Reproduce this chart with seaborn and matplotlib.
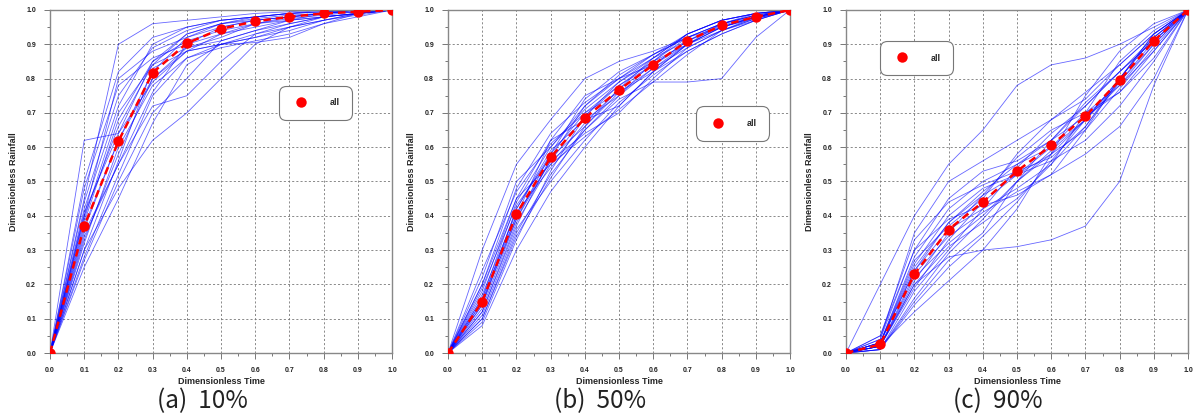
import numpy as np
import pandas as pd
import matplotlib
matplotlib.use('Agg')
import matplotlib.pyplot as plt
import seaborn as sns
from matplotlib.lines import Line2D
from matplotlib.ticker import MultipleLocator

sns.set_style('white')
plt.rcParams['font.family'] = ['Liberation Sans', 'DejaVu Sans']

# Dimensionless time axis
time = [0.0, 0.1, 0.2, 0.3, 0.4, 0.5, 0.6, 0.7, 0.8, 0.9, 1.0]

# Mean curves ("all")
mean_10 = [0, .37, .617, .817, .903, .945, .967, .98, .99, .995, 1]
mean_50 = [0, .15, .405, .57, .685, .767, .84, .91, .955, .98, 1]
mean_90 = [0, .025, .23, .36, .44, .53, .605, .69, .795, .91, 1]

# Individual storm curves, 10% quantile
curves_10 = [
    [0, .62, .64, .85, .93, .96, .98, .99, .995, 1, 1],
    [0, .45, .90, .96, .97, .98, .99, .995, 1, 1, 1],
    [0, .40, .80, .88, .92, .95, .97, .98, .99, 1, 1],
    [0, .35, .55, .72, .75, .85, .93, .96, .98, .99, 1],
    [0, .30, .48, .62, .70, .80, .90, .95, .97, .99, 1],
    [0, .38, .68, .85, .91, .94, .96, .97, .98, .99, 1],
    [0, .33, .58, .80, .88, .90, .92, .95, .98, .99, 1],
    [0, .42, .72, .90, .95, .97, .98, .99, .995, 1, 1],
    [0, .28, .52, .75, .86, .89, .91, .93, .96, .98, 1],
    [0, .36, .62, .82, .92, .96, .97, .98, .99, 1, 1],
    [0, .32, .60, .78, .86, .90, .93, .95, .97, .985, 1],
    [0, .48, .78, .86, .90, .93, .95, .97, .98, .99, 1],
    [0, .25, .45, .67, .84, .90, .92, .94, .97, .99, 1],
    [0, .40, .66, .84, .93, .96, .975, .985, .99, 1, 1],
    [0, .34, .55, .76, .90, .95, .97, .98, .99, .995, 1],
    [0, .37, .62, .80, .89, .91, .94, .97, .99, .995, 1],
    [0, .44, .75, .89, .94, .97, .98, .99, 1, 1, 1],
    [0, .30, .56, .83, .88, .90, .905, .92, .96, .99, 1],
    [0, .50, .82, .92, .95, .97, .98, .99, .995, 1, 1],
    [0, .39, .70, .84, .89, .92, .96, .98, .99, 1, 1],
    [0, .27, .50, .70, .80, .91, .94, .96, .98, .99, 1],
    [0, .41, .64, .79, .88, .93, .96, .975, .985, .995, 1],
]

# Individual storm curves, 50% quantile
curves_50 = [
    [0, .30, .55, .68, .80, .85, .88, .92, .96, .98, 1],
    [0, .20, .48, .64, .73, .80, .87, .93, .97, .99, 1],
    [0, .10, .35, .52, .65, .74, .79, .79, .80, .92, 1],
    [0, .15, .42, .58, .70, .78, .85, .92, .96, .985, 1],
    [0, .08, .30, .47, .60, .72, .82, .90, .95, .98, 1],
    [0, .18, .45, .62, .68, .72, .82, .90, .95, .98, 1],
    [0, .12, .38, .55, .67, .77, .84, .91, .955, .98, 1],
    [0, .22, .50, .60, .72, .80, .86, .91, .95, .98, 1],
    [0, .14, .40, .56, .64, .70, .80, .89, .94, .975, 1],
    [0, .16, .44, .60, .71, .79, .86, .93, .97, .99, 1],
    [0, .11, .36, .50, .62, .73, .81, .88, .93, .97, 1],
    [0, .19, .43, .57, .66, .76, .83, .89, .94, .975, 1],
    [0, .13, .39, .58, .74, .82, .87, .92, .96, .985, 1],
    [0, .17, .41, .54, .65, .75, .83, .90, .95, .98, 1],
    [0, .09, .33, .53, .69, .78, .84, .91, .96, .985, 1],
    [0, .24, .47, .61, .70, .76, .82, .88, .93, .97, 1],
    [0, .14, .42, .59, .68, .75, .85, .93, .97, .99, 1],
    [0, .12, .37, .57, .72, .81, .87, .92, .95, .975, 1],
    [0, .20, .45, .55, .63, .71, .79, .87, .94, .98, 1],
    [0, .16, .40, .62, .75, .80, .84, .90, .96, .99, 1],
    [0, .10, .34, .51, .66, .77, .86, .93, .97, .99, 1],
    [0, .15, .39, .56, .69, .79, .85, .90, .94, .97, 1],
]

# Individual storm curves, 90% quantile
curves_90 = [
    [0, .20, .40, .55, .65, .78, .84, .86, .90, .95, 1],
    [0, .05, .30, .45, .53, .56, .62, .73, .82, .92, 1],
    [0, .02, .20, .28, .30, .31, .33, .37, .50, .78, 1],
    [0, .03, .25, .38, .46, .52, .58, .68, .80, .92, 1],
    [0, .01, .15, .27, .35, .50, .62, .72, .82, .91, 1],
    [0, .03, .28, .42, .50, .55, .60, .70, .78, .88, 1],
    [0, .02, .22, .32, .40, .50, .58, .65, .80, .93, 1],
    [0, .04, .35, .50, .56, .62, .68, .74, .84, .93, 1],
    [0, .01, .18, .30, .42, .54, .64, .72, .82, .91, 1],
    [0, .03, .24, .36, .42, .48, .55, .66, .80, .93, 1],
    [0, .02, .21, .35, .46, .57, .65, .70, .76, .88, 1],
    [0, .02, .12, .21, .30, .42, .58, .75, .88, .96, 1],
    [0, .03, .26, .40, .48, .52, .56, .62, .72, .85, 1],
    [0, .02, .19, .33, .44, .52, .60, .68, .79, .90, 1],
    [0, .04, .30, .39, .43, .46, .52, .65, .77, .89, 1],
    [0, .01, .16, .29, .39, .50, .59, .68, .78, .90, 1],
    [0, .03, .27, .37, .45, .58, .68, .76, .84, .93, 1],
    [0, .02, .23, .34, .41, .47, .52, .58, .66, .80, 1],
    [0, .05, .33, .44, .49, .53, .57, .66, .79, .91, 1],
    [0, .02, .20, .31, .38, .45, .55, .70, .85, .94, 1],
    [0, .03, .24, .38, .47, .55, .62, .69, .76, .86, 1],
    [0, .01, .14, .25, .34, .44, .56, .68, .80, .92, 1],
]

captions = ['(a)  10%', '(b)  50%', '(c)  90%']
legend_pos = [(0.777, 0.729), (0.833, 0.669), (0.206, 0.860)]
axes_left = [50, 448, 846]

fig = plt.figure(figsize=(11.97, 4.16), dpi=100)

panels = [(curves_10, mean_10), (curves_50, mean_50), (curves_90, mean_90)]
for i, (curves, mean) in enumerate(panels):
    ax = fig.add_axes([axes_left[i] / 1197, 63 / 416, 342 / 1197, 343 / 416])

    rows = []
    for k, c in enumerate(curves):
        for t, v in zip(time, c):
            rows.append({'storm': k, 't': t, 'v': v})
    df = pd.DataFrame(rows)
    sns.lineplot(data=df, x='t', y='v', units='storm', estimator=None,
                 color='#0000ff', lw=0.6, alpha=0.6, ax=ax, legend=False)

    dm = pd.DataFrame({'t': time, 'v': mean})
    sns.lineplot(data=dm, x='t', y='v', color='red', lw=1.8, ax=ax,
                 linestyle=(0, (3, 2)), marker='o', markersize=7.5,
                 markeredgewidth=0, zorder=5)

    ax.set_xlim(0, 1)
    ax.set_ylim(0, 1)
    ax.xaxis.set_major_locator(MultipleLocator(0.1))
    ax.yaxis.set_major_locator(MultipleLocator(0.1))
    ax.xaxis.set_minor_locator(MultipleLocator(0.05))
    ax.yaxis.set_minor_locator(MultipleLocator(0.05))
    ax.xaxis.set_major_formatter(plt.FormatStrFormatter('%.1f'))
    ax.yaxis.set_major_formatter(plt.FormatStrFormatter('%.1f'))
    ax.grid(True, which='major', color='#777777', linestyle=(0, (2.5, 2.5)), lw=0.6)
    ax.tick_params(which='major', direction='out', length=4, width=0.7,
                   color='#777777', labelsize=5, pad=6, bottom=True, left=True)
    ax.tick_params(which='minor', direction='out', length=2.5, width=0.7,
                   color='#777777', bottom=True, left=True)
    for lab in ax.get_xticklabels() + ax.get_yticklabels():
        lab.set_fontweight('bold')
        lab.set_color('#222222')
    for s in ax.spines.values():
        s.set_color('#888888')
        s.set_linewidth(1.0)
    ax.set_xlabel('Dimensionless Time', fontsize=6.5, fontweight='bold', labelpad=2)
    ax.set_ylabel('Dimensionless Rainfall', fontsize=6.5, fontweight='bold', labelpad=6)

    handle = Line2D([], [], color='red', marker='o', markersize=7.5,
                    markeredgewidth=0, linestyle='none')
    leg = ax.legend([handle], ['all'], loc='center',
                    bbox_to_anchor=legend_pos[i], frameon=True,
                    prop={'size': 6.5, 'weight': 'bold'},
                    borderpad=1.4, handletextpad=2.2, borderaxespad=0,
                    fancybox=True, framealpha=1)
    leg.get_frame().set_edgecolor('#777777')
    leg.get_frame().set_linewidth(0.8)
    leg.get_frame().set_boxstyle('round,pad=0,rounding_size=0.8')

    fig.text((axes_left[i] + 152) / 1197, 15 / 416, captions[i],
             ha='center', va='center', fontsize=17.5, color='#222222',
             family=['Noto Sans CJK KR', 'DejaVu Sans'])

fig.savefig('out.png', dpi=100)
